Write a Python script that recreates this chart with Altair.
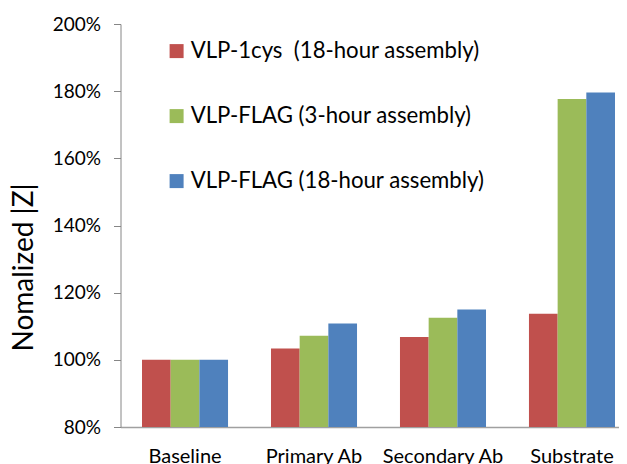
import altair as alt
import pandas as pd

categories = ["Baseline", "Primary Ab", "Secondary Ab", "Substrate"]
series = ["VLP-1cys \u00a0(18-hour assembly)", "VLP-FLAG (3-hour assembly)", "VLP-FLAG (18-hour assembly)"]
vlp1cys_18h = [100.0, 103.4, 106.8, 113.7]
flag_3h = [100.0, 107.2, 112.5, 177.7]
flag_18h = [100.0, 110.8, 115.0, 179.6]
colors = ["#C0504D", "#9BBB59", "#4F81BD"]
y_ticks = [80, 100, 120, 140, 160, 180, 200]

rows = []
for s, vals in zip(series, [vlp1cys_18h, flag_3h, flag_18h]):
    for c, v in zip(categories, vals):
        rows.append({"category": c, "series": s, "value": v})
df = pd.DataFrame(rows)

FONT = "Lato"

chart = alt.Chart(df).mark_bar().encode(
    x=alt.X("category:N", sort=categories,
            scale=alt.Scale(paddingInner=0.333, paddingOuter=0.1667),
            axis=alt.Axis(title=None, labelAngle=0, ticks=False, labelFontSize=20,
                          labelPadding=19, domainColor="#A0A0A0", domainWidth=1.5,
                          labelColor="black", labelFont=FONT)),
    xOffset=alt.XOffset("series:N", sort=series,
                        scale=alt.Scale(paddingInner=0, paddingOuter=0)),
    y=alt.Y("value:Q", scale=alt.Scale(domain=[80, 200], nice=False, zero=False),
            axis=alt.Axis(values=y_ticks, labelExpr="datum.value + '%'", grid=False,
                          tickSize=7, tickColor="#868686", domainColor="#868686",
                          labelFontSize=19, labelFont=FONT, labelColor="black",
                          labelPadding=13, title="Nomalized |Z|", titleFont=FONT,
                          titleFontSize=28, titleFontWeight="normal", titleColor="black",
                          titleX=-96.5, titleY=243, titleBaseline="middle", titleAngle=-90)),
    y2=alt.datum(80),
    color=alt.Color("series:N", sort=series,
                    scale=alt.Scale(domain=series, range=colors),
                    legend=alt.Legend(orient="none", legendX=45, legendY=16, title=None,
                                      symbolType="square", symbolSize=196,
                                      labelFontSize=22.2, labelFont=FONT, labelColor="black",
                                      rowPadding=42, labelOffset=3, symbolStrokeWidth=0,
                                      labelLimit=0)),
).properties(
    width=516, height=403, autosize="none",
    padding={"left": 112.5, "top": 16, "right": -17.5, "bottom": 45},
).configure_view(strokeWidth=0)

chart.save("out.html", embed_options={"renderer": "svg", "actions": False})
